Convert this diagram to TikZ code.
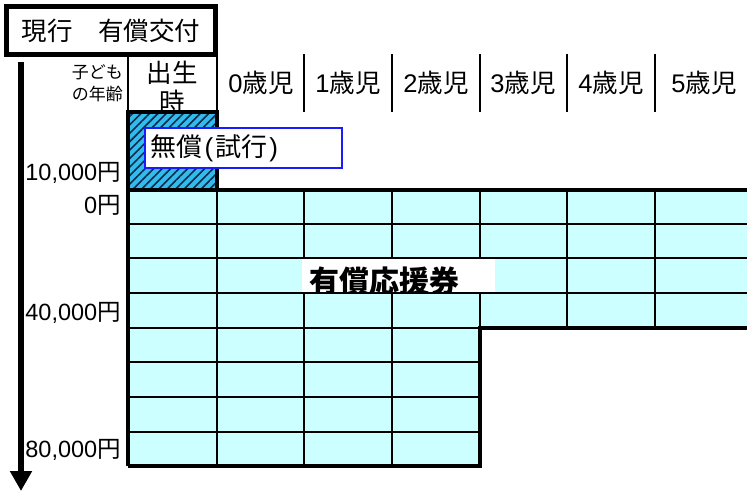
\documentclass[tikz,border=0pt]{standalone}
\usepackage{fontspec}
\setmainfont{Liberation Sans}
\newfontfamily\jp{Noto Sans CJK JP}
\usetikzlibrary{arrows.meta,patterns.meta}
\definecolor{gridcyan}{HTML}{CCFFFF}
\definecolor{hatchcyan}{HTML}{33BBEE}
\definecolor{hatchline}{HTML}{0A2A4A}
\definecolor{boxblue}{HTML}{1A1AFF}
\newcommand\fsz[1]{\fontsize{#1}{#1}\selectfont}
\begin{document}
\begin{tikzpicture}[x=1pt,y=-1pt,
  thinline/.style={line width=1.5pt},
  thickline/.style={line width=4pt, line join=miter},
  hdrline/.style={line width=2pt},
  lbl/.style={inner sep=0pt},
  agelbl/.style={lbl, font=\fsz{25.5}},
  amt/.style={lbl, anchor=east, font=\fsz{23.5}},
]
\useasboundingbox (0,0) rectangle (747,492);
% title
\node[draw, line width=5pt, minimum width=209pt, minimum height=48pt, inner sep=0pt, font=\fsz{25.5}\jp] (title) at (111,30.5) {現行　有償交付};
% arrow
\coordinate (astart) at (21,62);
\coordinate (aend) at (21,491);
\draw[line width=6.5pt, -{Triangle[width=21pt,length=20pt]}] (astart) -- (aend);
% header texts
\node[lbl, anchor=east, font=\fsz{17}\jp] (kodomo) at (123,72) {子ども};
\node[lbl, anchor=east, font=\fsz{17}\jp] (nenrei) at (123,94) {の年齢};
\node[lbl, font=\fsz{25.5}\jp] (shusei) at (172,73) {出生};
\node[lbl, font=\fsz{25.5}\jp] (ji) at (172,102) {時};
\node[agelbl] (a0) at (261,83) {0\jp 歳児};
\node[agelbl] (a1) at (348,83) {1\jp 歳児};
\node[agelbl] (a2) at (436,83) {2\jp 歳児};
\node[agelbl] (a3) at (523,83) {3\jp 歳児};
\node[agelbl] (a4) at (611,83) {4\jp 歳児};
\node[agelbl] (a5) at (704,83) {5\jp 歳児};
% header separators
\draw[hdrline] (128,57) -- (128,112);
\draw[hdrline] (217,57) -- (217,112);
\foreach \x in {304,392,480,567,655} \draw[hdrline] (\x,54) -- (\x,112);
% amounts
\node[amt] (m1) at (121,173) {10,000\jp 円};
\node[amt] (m0) at (121,205) {0\jp 円};
\node[amt] (m4) at (121,313) {40,000\jp 円};
\node[amt] (m8) at (121,450) {80,000\jp 円};
% grid fill
\fill[gridcyan] (128,190) -- (747,190) -- (747,328) -- (480,328) -- (480,466) -- (128,466) -- cycle;
% hatched cell
\fill[hatchcyan] (128,112) rectangle (217,190);
\fill[pattern={Lines[angle=45,distance=6pt,line width=1.6pt]}, pattern color=hatchline] (128,112) rectangle (217,190);
% thin grid lines
\foreach \x in {217,304,392} \draw[thinline] (\x,190) -- (\x,466);
\foreach \x in {480,567,655} \draw[thinline] (\x,190) -- (\x,328);
\foreach \y in {224,258,293} \draw[thinline] (128,\y) -- (747,\y);
\foreach \y in {328,362,397,432} \draw[thinline] (128,\y) -- (480,\y);
% paid voucher label
\fill[white] (302,259) rectangle (495,292);
\begin{scope}
\clip (302,259) rectangle (495,292);
\node[lbl, anchor=west, font=\fsz{30}\jp\bfseries] (yusho) at (309,281) {有償応援券};
\end{scope}
% thick outline
\draw[thickline] (128,466) -- (128,112) -- (217,112) -- (217,190);
\draw[thickline] (128,190) -- (749,190);
\draw[thickline] (128,466) -- (480,466) -- (480,328) -- (749,328);
% free label
\node[draw=boxblue, line width=2pt, fill=white, minimum width=197pt, minimum height=40pt, inner sep=0pt] (musho) at (243.5,148) {};
\node[lbl, anchor=west, font=\fsz{26}] (mushotxt) at (150,148) {\jp 無償\hspace{2.5pt}{\rmfamily(}\hspace{2pt}試行\hspace{2pt}{\rmfamily)}};
\end{tikzpicture}
\end{document}
